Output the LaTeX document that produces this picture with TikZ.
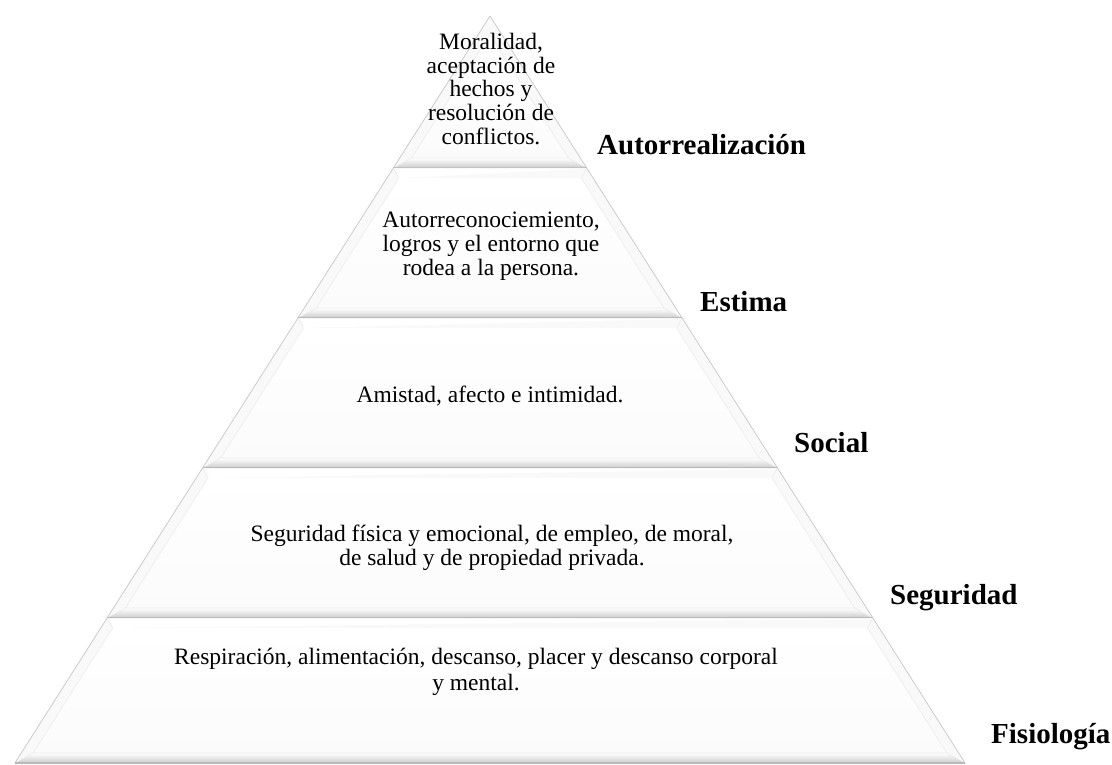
\documentclass[tikz,border=0pt]{standalone}
\usepackage{fontspec}
\setmainfont{Liberation Serif}
\newfontfamily\tnrfont{Liberation Serif}
\begin{document}
\begin{tikzpicture}[x=1pt,y=-1pt,
  body/.style={font=\tnrfont\fontsize{23.5}{23.8}\selectfont, align=center, inner sep=0pt},
  lbl/.style={font=\tnrfont\fontsize{29}{29}\selectfont\bfseries, anchor=base west, inner sep=0pt},
  edgeline/.style={draw=gray!45, line width=0.7pt},
  sepline/.style={draw=gray!55, line width=1.3pt},
  bevline/.style={draw=gray!15, line width=0.6pt}]
\useasboundingbox (0,0) rectangle (1112,765);
\def\ax{490}\def\ay{16}\def\sl{0.636}\def\dd{10}
\foreach \t/\b in {16/168,168/318,318/468,468/618,618/763}{
  \pgfmathsetmacro\hwt{\sl*(\t-\ay)}
  \pgfmathsetmacro\hwb{\sl*(\b-\ay)}
  \pgfmathsetmacro\yit{max(\t+\dd,\ay+1.863*\dd)}
  \pgfmathsetmacro\yib{\b-\dd}
  \pgfmathsetmacro\iwt{max(\sl*(\yit-\ay)-1.185*\dd,0)}
  \pgfmathsetmacro\iwb{\sl*(\yib-\ay)-1.185*\dd}
  \fill[gray!5] (\ax-\hwt,\t) -- (\ax+\hwt,\t) -- (\ax+\hwb,\b) -- (\ax-\hwb,\b) -- cycle;
  \fill[white] (\ax-\hwt+3,\t+1) -- (\ax+\hwt-3,\t+1) -- (\ax-\iwt,\yit) -- cycle;
  \shade[top color=white,bottom color=gray!40] (\ax-\iwb,\yib) -- (\ax+\iwb,\yib) -- (\ax+\hwb,\b) -- (\ax-\hwb,\b) -- cycle;
  \shade[top color=white,bottom color=gray!3] (\ax-\iwt,\yit) -- (\ax+\iwt,\yit) -- (\ax+\iwb,\yib) -- (\ax-\iwb,\yib) -- cycle;
  \draw[bevline] (\ax-\iwt,\yit) -- (\ax-\iwb,\yib) -- (\ax+\iwb,\yib) -- (\ax+\iwt,\yit);
  \draw[bevline] (\ax-\iwb,\yib) -- (\ax-\hwb,\b) (\ax+\iwb,\yib) -- (\ax+\hwb,\b)
                 (\ax-\iwt,\yit) -- (\ax-\hwt,\t) (\ax+\iwt,\yit) -- (\ax+\hwt,\t);
  \draw[edgeline] (\ax-\hwt,\t) -- (\ax-\hwb,\b) (\ax+\hwt,\t) -- (\ax+\hwb,\b);
  \draw[sepline] (\ax-\hwb,\b) -- (\ax+\hwb,\b);
}
\node[body] (t1) at (491,89) {Moralidad,\\aceptación de\\hechos y\\resolución de\\conflictos.};
\node[body] (t2) at (491,246) {Autorreconociemiento,\\logros y el entorno que\\rodea a la persona.};
\node[body] (t3) at (490,396) {Amistad, afecto e intimidad.};
\node[body] (t4) at (492,548) {Seguridad física y emocional, de empleo, de moral,\\de salud y de propiedad privada.};
\node[body, font=\tnrfont\fontsize{23.5}{25.5}\selectfont] (t5) at (476,672) {Respiración, alimentación, descanso, placer y descanso corporal\\y mental.};
\node[lbl] (l1) at (597,155) {Autorrealización};
\node[lbl] (l2) at (700,311) {Estima};
\node[lbl] (l3) at (794,452) {Social};
\node[lbl] (l4) at (890,604) {Seguridad};
\node[lbl] (l5) at (991,743) {Fisiología};
\end{tikzpicture}
\end{document}
